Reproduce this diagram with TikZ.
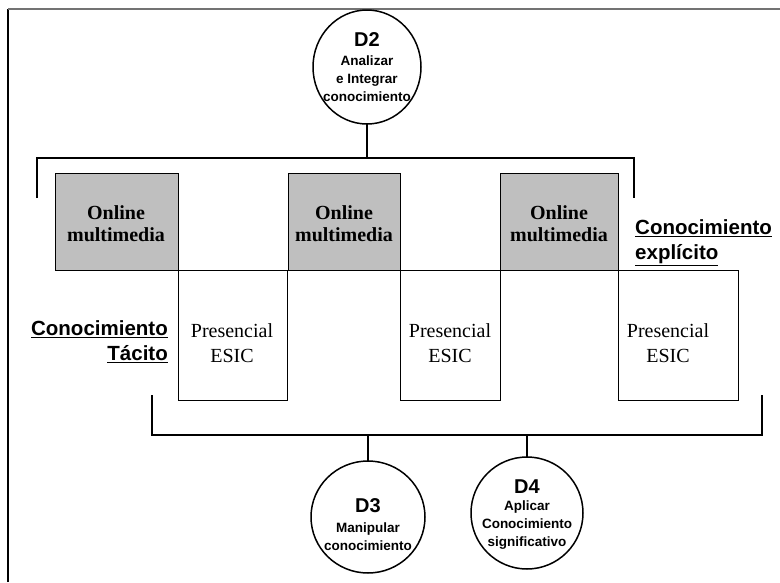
\documentclass[tikz,border=0pt]{standalone}
\usepackage{fontspec}
\setmainfont{Liberation Serif}
\setsansfont{Liberation Sans}
\usetikzlibrary{shapes.geometric}
\begin{document}
\begin{tikzpicture}[x=1pt,y=-1pt,
  circ/.style={draw, line width=1.5pt, ellipse, inner sep=0pt, outer sep=0pt},
  gbox/.style={draw, line width=0.9pt, fill=black!25, anchor=north west, inner sep=0pt, outer sep=0pt},
  wbox/.style={draw, line width=0.9pt, anchor=north west, inner sep=0pt, outer sep=0pt},
  conn/.style={line width=1.5pt},
  frameline/.style={line width=1.6pt},
  ctext/.style={font=\sffamily\bfseries\fontsize{13.5}{18}\selectfont, align=center, inner sep=0pt},
  dtext/.style={font=\sffamily\bfseries\fontsize{20}{22}\selectfont, inner sep=0pt},
  otext/.style={font=\rmfamily\bfseries\fontsize{20}{22}\selectfont, align=center, inner sep=0pt},
  ptext/.style={font=\rmfamily\fontsize{20}{25}\selectfont, align=center, inner sep=0pt},
  ktext/.style={font=\sffamily\bfseries\fontsize{20.5}{25}\selectfont, inner sep=0pt}
]
\useasboundingbox (0,0) rectangle (780,582);
% frame
\coordinate (fbl) at (8,582);
\coordinate (ftl) at (8,9);
\coordinate (ftr) at (780,9);
\draw[frameline] (fbl) -- (ftl);
\draw[frameline, black!55] (ftl) -- (ftr);

% D2
\node[circ, minimum width=108pt, minimum height=114pt] (d2) at (367,67) {};
\node[dtext] (d2a) at (367,40) {D2};
\node[ctext] (d2b) at (367,79) {Analizar\\e Integrar\\conocimiento};

% top bracket
\coordinate (tl) at (37,198);
\coordinate (tlt) at (37,158);
\coordinate (trt) at (634,158);
\coordinate (tr) at (634,198);
\draw[conn] (tl) -- (tlt) -- (trt) -- (tr);
\draw[conn] (d2.south) -- (d2.south |- tlt);

% online boxes
\node[gbox, minimum width=123pt, minimum height=97pt] (g1) at (55,173) {};
\node[gbox, minimum width=112pt, minimum height=97pt] (g2) at (288,173) {};
\node[gbox, minimum width=118pt, minimum height=97pt] (g3) at (500,173) {};
\node[otext] (g1t) at (116,224) {Online\\multimedia};
\node[otext] (g2t) at (344,224) {Online\\multimedia};
\node[otext] (g3t) at (559,224) {Online\\multimedia};

% presencial boxes
\node[wbox, minimum width=109pt, minimum height=130pt] (p1) at (178,270) {};
\node[wbox, minimum width=100pt, minimum height=130pt] (p2) at (400,270) {};
\node[wbox, minimum width=120pt, minimum height=130pt] (p3) at (618,270) {};
\node[ptext] (p1t) at (232,343) {Presencial\\ESIC};
\node[ptext] (p2t) at (450,343) {Presencial\\ESIC};
\node[ptext] (p3t) at (668,343) {Presencial\\ESIC};

% labels
\node[ktext, anchor=west, align=left] (kexp) at (635,243) {\underline{Conocimiento}\\\underline{explícito}};
\node[ktext, anchor=east, align=right] (ktac) at (168,342) {\underline{Conocimiento}\\\underline{Tácito}};

% bottom bracket
\coordinate (bl) at (152,395);
\coordinate (blb) at (152,435);
\coordinate (brb) at (762,435);
\coordinate (br) at (762,395);
\draw[conn] (bl) -- (blb) -- (brb) -- (br);

% D3, D4
\node[circ, minimum width=114pt, minimum height=112pt] (d3) at (368,517) {};
\node[circ, minimum width=112pt, minimum height=112pt] (d4) at (527,513) {};
\draw[conn] (d3.north) -- (d3.north |- blb);
\draw[conn] (d4.north) -- (d4.north |- blb);
\node[dtext] (d3a) at (368,506) {D3};
\node[ctext] (d3b) at (368,537) {Manipular\\conocimiento};
\node[dtext] (d4a) at (527,487) {D4};
\node[ctext] (d4b) at (527,525) {Aplicar\\Conocimiento\\significativo};
\end{tikzpicture}
\end{document}
